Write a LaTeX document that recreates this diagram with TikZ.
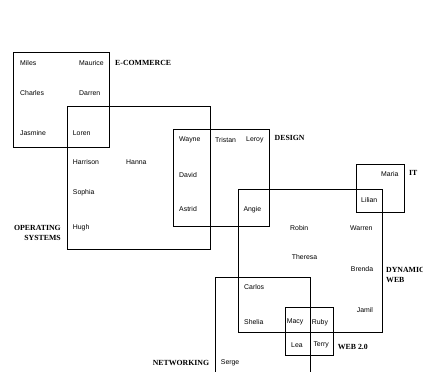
\documentclass[tikz,border=0pt]{standalone}
\usepackage{fontspec}
\setmainfont{Liberation Serif}
\setsansfont{Liberation Sans}
\begin{document}
\begin{tikzpicture}[x=1pt,y=-1pt,
  person/.style={font=\sffamily\fontsize{6.9}{8}\selectfont, inner sep=0pt, anchor=west},
  group/.style={font=\rmfamily\bfseries\fontsize{7.8}{9}\selectfont, inner sep=0pt},
  box/.style={draw=black, line width=0.8pt}]
\useasboundingbox (0,0) rectangle (423,372);
\clip (0,0) rectangle (423,372);
% boxes
\draw[box] (13,52) rectangle (109,147);
\draw[box] (67,106) rectangle (210,249);
\draw[box] (173,129) rectangle (269,226);
\draw[box] (238,189) rectangle (382,332);
\draw[box] (356,164) rectangle (404,212);
\draw[box] (215,380) -- (215,277) -- (310,277) -- (310,380);
\draw[box] (285,307) rectangle (333,355);
% group labels
\node[group, anchor=west] (ecom) at (115,62.5) {E-COMMERCE};
\node[group, anchor=west] (design) at (274.5,137.7) {DESIGN};
\node[group, anchor=west] (it) at (409,172.7) {IT};
\node[group, anchor=east, align=right] (os) at (61,232.5) {OPERATING\\[1pt]SYSTEMS};
\node[group, anchor=west, align=left] (dyn) at (386,275) {DYNAMIC\\[1pt]WEB};
\node[group, anchor=west] (web2) at (337.7,347.3) {WEB 2.0};
\node[group, anchor=east] (net) at (209.3,362.7) {NETWORKING};
% people
\node[person] (miles) at (20,62.7) {Miles};
\node[person] (maurice) at (79,62.7) {Maurice};
\node[person] (charles) at (20,92.7) {Charles};
\node[person] (darren) at (79,92.7) {Darren};
\node[person] (jasmine) at (20,133.3) {Jasmine};
\node[person] (loren) at (72.7,133.3) {Loren};
\node[person] (harrison) at (72.7,162.3) {Harrison};
\node[person] (hanna) at (126,162.3) {Hanna};
\node[person] (sophia) at (72.7,192.7) {Sophia};
\node[person] (hugh) at (72.7,227.7) {Hugh};
\node[person] (wayne) at (179,140) {Wayne};
\node[person] (david) at (179,175) {David};
\node[person] (astrid) at (179,209.5) {Astrid};
\node[person] (tristan) at (215,140) {Tristan};
\node[person] (leroy) at (246,140) {Leroy};
\node[person] (angie) at (243.3,210) {Angie};
\node[person] (maria) at (381,174.3) {Maria};
\node[person] (lilian) at (361,200) {Lilian};
\node[person] (robin) at (290,227.7) {Robin};
\node[person] (warren) at (350,227.7) {Warren};
\node[person] (theresa) at (291.7,257.3) {Theresa};
\node[person] (brenda) at (350.7,269.3) {Brenda};
\node[person] (carlos) at (244,286.7) {Carlos};
\node[person] (jamil) at (356.7,310) {Jamil};
\node[person] (shelia) at (244,322.3) {Shelia};
\node[person] (macy) at (286.7,322.3) {Macy};
\node[person] (ruby) at (311.7,322.3) {Ruby};
\node[person] (lea) at (291,345) {Lea};
\node[person] (terry) at (313.3,345) {Terry};
\node[person] (serge) at (220.7,363.3) {Serge};
\end{tikzpicture}
\end{document}
